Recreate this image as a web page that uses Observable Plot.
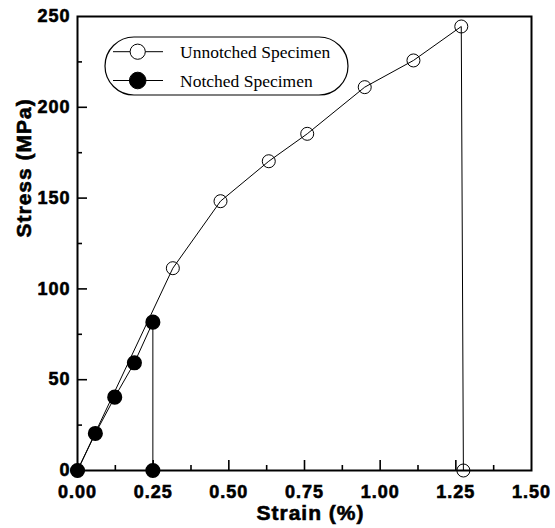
<!DOCTYPE html>
<html>
<head>
<meta charset="utf-8">
<script src="https://cdn.jsdelivr.net/npm/d3@7"></script>
<script src="https://cdn.jsdelivr.net/npm/@observablehq/plot@0.6"></script>
<style>
  html, body { margin: 0; padding: 0; background: #fff; }
</style>
</head>
<body>
<div id="chart"></div>
<script>
// Unnotched specimen
const strainUnnotched = [0, 0.315, 0.4725, 0.632, 0.759, 0.949, 1.110, 1.268, 1.275];
const stressUnnotched = [0, 111.4, 148.3, 170.3, 185.4, 211.1, 225.8, 244.5, 0];
// Notched specimen
const strainNotched = [0, 0.059, 0.123, 0.188, 0.249, 0.249];
const stressNotched = [0, 20.4, 40.4, 59.3, 81.7, 0];

const xMajorTicks = [0, 0.25, 0.5, 0.75, 1.0, 1.25, 1.5];
const xMinorTicks = [0.125, 0.375, 0.625, 0.875, 1.125, 1.375];
const yMajorTicks = [0, 50, 100, 150, 200, 250];
const yMinorTicks = [25, 75, 125, 175, 225];

const seriesNames = ["Unnotched Specimen", "Notched Specimen"];

const unnotched = strainUnnotched.map((s, i) => ({strain: s, stress: stressUnnotched[i]}));
const notched = strainNotched.map((s, i) => ({strain: s, stress: stressNotched[i]}));

const W = 555, H = 528, mL = 77, mR = 24, mT = 16, mB = 58;
const innerW = W - mL - mR, innerH = H - mT - mB;

const chart = Plot.plot({
  width: W,
  height: H,
  marginLeft: mL,
  marginRight: mR,
  marginTop: mT,
  marginBottom: mB,
  style: {fontFamily: "'Liberation Sans', Arial, sans-serif", background: "#fff", color: "#000"},
  x: {domain: [0, 1.5]},
  y: {domain: [0, 250]},
  marks: [
    Plot.axisX({ticks: xMajorTicks, tickSize: 0, tickPadding: 15, tickFormat: d => d.toFixed(2),
      fontSize: 18, fontWeight: "bold", label: null}),
    Plot.axisY({ticks: yMajorTicks, tickSize: 0, tickPadding: 7, tickFormat: d => String(d),
      fontSize: 18, fontWeight: "bold", label: null}),
    // inward ticks
    Plot.ruleX(xMajorTicks.slice(1, -1), {x: d => d, insetTop: innerH - 10, stroke: "#000", strokeWidth: 1.6}),
    Plot.ruleX(xMinorTicks, {x: d => d, insetTop: innerH - 5, stroke: "#000", strokeWidth: 1.6}),
    Plot.ruleY(yMajorTicks.slice(1, -1), {y: d => d, insetRight: innerW - 10, stroke: "#000", strokeWidth: 1.6}),
    Plot.ruleY(yMinorTicks, {y: d => d, insetRight: innerW - 5, stroke: "#000", strokeWidth: 1.6}),
    Plot.line(unnotched, {x: "strain", y: "stress", stroke: "#000", strokeWidth: 1}),
    Plot.dot(unnotched, {x: "strain", y: "stress", r: 6.5, stroke: "#000", strokeWidth: 1, fill: "none"}),
    Plot.line(notched, {x: "strain", y: "stress", stroke: "#000", strokeWidth: 1}),
    Plot.dot(notched, {x: "strain", y: "stress", r: 6.8, fill: "#000", stroke: "#000"}),
    Plot.frame({stroke: "#000", strokeWidth: 2}),
    Plot.text(["Strain (%)"], {frameAnchor: "bottom", lineAnchor: "top", dx: 6, dy: 35,
      fontSize: 21, fontWeight: "bold", fill: "#000"}),
    Plot.text(["Stress (MPa)"], {frameAnchor: "left", rotate: -90, lineAnchor: "middle", dx: -53, dy: -6,
      fontSize: 21, fontWeight: "bold", fill: "#000"})
  ]
});

document.getElementById("chart").appendChild(chart);

const svg = d3.select(chart);
// tick labels and titles: heavier, slightly spaced (mimics the original's heavy sans)
svg.selectAll("text")
  .filter(function() { return /^[0-9.]+$/.test(this.textContent.trim()); })
  .style("font-weight", "bold")
  .attr("letter-spacing", "1px")
  .attr("stroke", "#000")
  .attr("stroke-width", 0.6);
svg.selectAll("text")
  .filter(function() { return /Strain|Stress/.test(this.textContent); })
  .style("font-weight", "bold")
  .attr("letter-spacing", "1px")
  .attr("stroke", "#000")
  .attr("stroke-width", 0.6);

// Legend (capsule box)
const lg = svg.append("g").attr("class", "legend").attr("text-anchor", "start");
lg.append("rect")
  .attr("x", 105).attr("y", 37).attr("width", 243).attr("height", 58)
  .attr("rx", 29).attr("ry", 29)
  .attr("fill", "#fff").attr("stroke", "#000").attr("stroke-width", 1.2);
const rows = [
  {name: seriesNames[0], y: 51.7, filled: false},
  {name: seriesNames[1], y: 80.5, filled: true}
];
rows.forEach(r => {
  lg.append("line").attr("x1", 113).attr("x2", 163).attr("y1", r.y).attr("y2", r.y)
    .attr("stroke", "#000").attr("stroke-width", 1);
  lg.append("circle").attr("cx", 137.7).attr("cy", r.y).attr("r", r.filled ? 8.3 : 7.6)
    .attr("fill", r.filled ? "#000" : "#fff").attr("stroke", "#000").attr("stroke-width", 1);
  lg.append("text").attr("x", 180).attr("y", r.y).attr("dy", "0.35em")
    .attr("text-anchor", "start")
    .style("font-family", "'Liberation Serif', 'Times New Roman', serif")
    .style("font-size", "17.5px").style("font-weight", "normal").attr("fill", "#000").text(r.name);
});
</script>
</body>
</html>
